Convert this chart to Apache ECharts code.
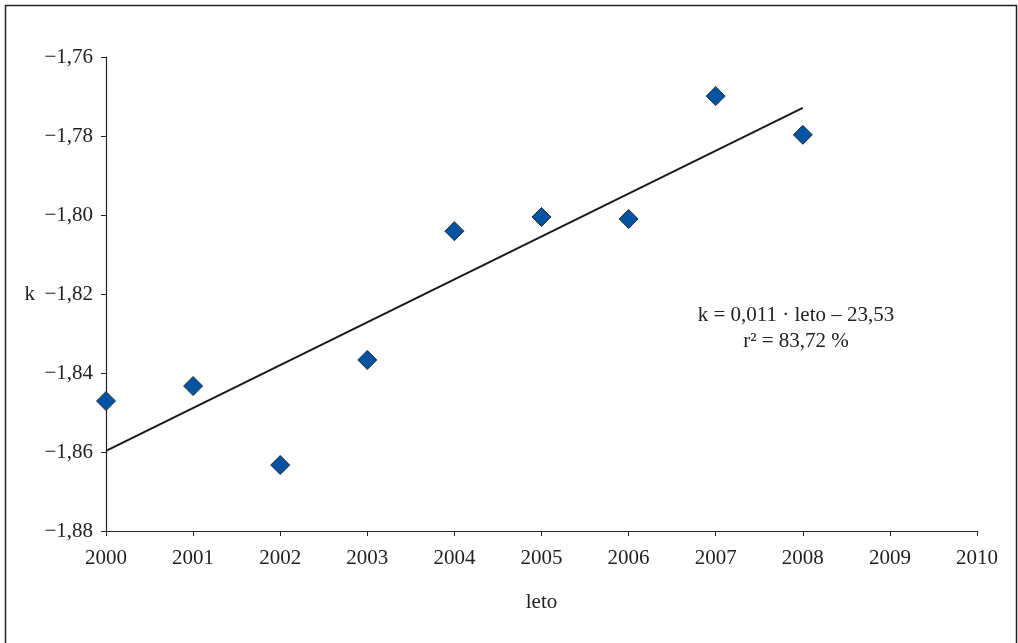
<!DOCTYPE html>
<html lang="sl">
<head>
    <meta charset="UTF-8">
    <title>k po letih</title>
    <script src="https://cdn.jsdelivr.net/npm/echarts@6/dist/echarts.min.js"></script>
    <style>
        html, body { margin: 0; padding: 0; background: #fff; }
        #chart { width: 1018px; height: 643px; }
    </style>
</head>
<body>
<div id="chart"></div>
<script>
    // podatki, odčitani s slike
    const years = [2000, 2001, 2002, 2003, 2004, 2005, 2006, 2007, 2008];
    const kValues = [-1.8471, -1.8433, -1.8633, -1.8367, -1.8041, -1.8005, -1.8010, -1.7699, -1.7797];
    // trendna premica (krajišči)
    const trendYears = [2000, 2008];
    const trendValues = [-1.8597, -1.7729];
    const equationLines = ['k = 0,011 · leto – 23,53', 'r² = 83,72 %'];

    const font = '"Liberation Serif", "DejaVu Serif", serif';
    const fmtY = v => '\u2212' + Math.abs(v).toFixed(2).replace('.', ',');

    const points = years.map((y, i) => [y, kValues[i]]);
    const trend = trendYears.map((y, i) => [y, trendValues[i]]);

    const option = {
        animation: false,
        backgroundColor: '#fff',
        grid: { left: 106, right: 41, top: 57, bottom: 112 },
        xAxis: {
            type: 'value',
            min: 2000, max: 2010, interval: 1,
            name: 'leto',
            nameLocation: 'middle',
            nameGap: 61,
            nameTextStyle: { fontFamily: font, fontSize: 21, color: '#222' },
            axisLine: { lineStyle: { color: '#222', width: 1.2 } },
            axisTick: { show: true, length: 5, lineStyle: { color: '#222' } },
            axisLabel: { fontFamily: font, fontSize: 21, color: '#222', margin: 17, formatter: v => String(v) },
            splitLine: { show: false }
        },
        yAxis: {
            type: 'value',
            min: -1.88, max: -1.76, interval: 0.02,
            name: 'k',
            nameLocation: 'middle',
            nameRotate: 0,
            nameGap: 71,
            nameTextStyle: { fontFamily: font, fontSize: 21, color: '#222' },
            axisLine: { show: true, lineStyle: { color: '#222', width: 1.2 } },
            axisTick: { show: true, length: 5, lineStyle: { color: '#222' } },
            axisLabel: { fontFamily: font, fontSize: 21, color: '#222', margin: 13, formatter: fmtY },
            splitLine: { show: false }
        },
        series: [
            {
                type: 'line',
                data: trend,
                symbol: 'none',
                lineStyle: { color: '#1a1a1a', width: 2 },
                z: 2
            },
            {
                type: 'scatter',
                data: points,
                symbol: 'diamond',
                symbolSize: 19,
                itemStyle: { color: '#0254a3', borderColor: '#2a2a2a', borderWidth: 1, opacity: 1 },
                z: 3
            }
        ],
        graphic: [
            {
                type: 'polyline',
                shape: { points: [[5.5, 660], [5.5, 5.5], [1016.5, 5.5], [1016.5, 660]] },
                style: { stroke: '#222', lineWidth: 1.5, fill: null }
            },
            {
                type: 'text',
                x: 796, y: 302,
                style: {
                    text: equationLines.join('\n'),
                    font: '21px ' + font,
                    fill: '#222',
                    align: 'center',
                    lineHeight: 26
                }
            }
        ]
    };

    const chart = echarts.init(document.getElementById('chart'));
    chart.setOption(option);
</script>
</body>
</html>
